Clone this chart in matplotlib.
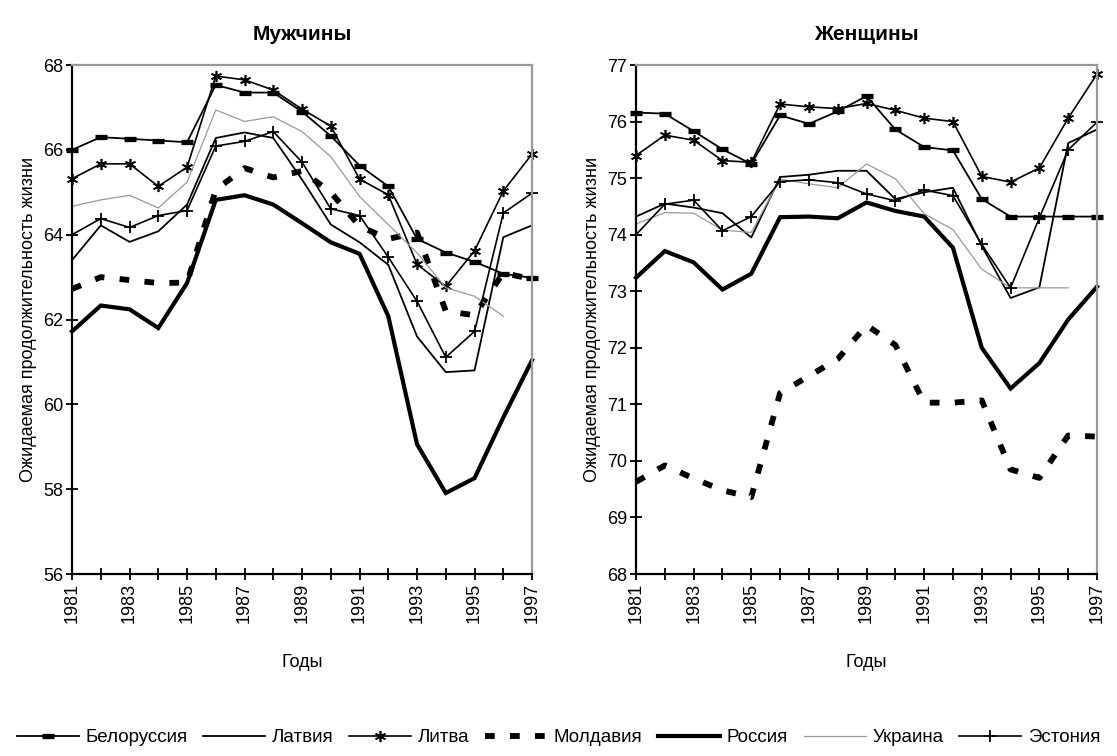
import numpy as np
import matplotlib
matplotlib.use("Agg")
import matplotlib.pyplot as plt

plt.rcParams['font.family'] = ['Liberation Sans', 'DejaVu Sans']
plt.rcParams['lines.scale_dashes'] = False

years = list(range(1981, 1998))
nan = np.nan

# Men (Мужчины)
m_belarus = [66.0, 66.3, 66.26, 66.22, 66.18, 67.53, 67.35, 67.35, 66.9, 66.33, 65.63, 65.14, 63.9, 63.58, 63.36, 63.08, 62.98]
m_latvia = [63.4, 64.22, 63.83, 64.08, 64.71, 66.28, 66.41, 66.28, 65.3, 64.24, 63.82, 63.29, 61.6, 60.76, 60.8, 63.94, 64.22]
m_lithuania = [65.32, 65.67, 65.67, 65.14, 65.59, 67.74, 67.65, 67.41, 66.96, 66.56, 65.31, 64.94, 63.3, 62.78, 63.62, 65.03, 65.9]
m_moldova = [62.72, 63.0, 62.93, 62.86, 62.87, 65.06, 65.57, 65.35, 65.5, 65.0, 64.2, 63.9, 64.05, 62.2, 62.1, 63.1, 62.95]
m_russia = [61.72, 62.33, 62.24, 61.8, 62.86, 64.82, 64.93, 64.71, 64.27, 63.82, 63.55, 62.08, 59.06, 57.91, 58.26, 59.69, 61.04]
m_ukraine = [64.67, 64.82, 64.93, 64.63, 65.24, 66.94, 66.67, 66.78, 66.43, 65.84, 64.9, 64.24, 63.57, 62.75, 62.55, 62.08, nan]
m_estonia = [64.0, 64.38, 64.17, 64.45, 64.57, 66.09, 66.2, 66.43, 65.71, 64.61, 64.45, 63.47, 62.43, 61.11, 61.72, 64.51, 64.98]

# Women (Женщины)
w_belarus = [76.16, 76.14, 75.83, 75.51, 75.25, 76.11, 75.96, 76.18, 76.45, 75.86, 75.55, 75.49, 74.63, 74.32, 74.32, 74.32, 74.32]
w_latvia = [74.32, 74.55, 74.48, 74.38, 73.95, 75.02, 75.06, 75.13, 75.13, 74.63, 74.75, 74.83, 73.8, 72.88, 73.07, 75.62, 75.86]
w_lithuania = [75.4, 75.76, 75.67, 75.31, 75.28, 76.31, 76.26, 76.23, 76.32, 76.2, 76.06, 76.0, 75.03, 74.93, 75.18, 76.06, 76.84]
w_moldova = [69.63, 69.92, 69.69, 69.48, 69.36, 71.2, 71.5, 71.8, 72.4, 72.05, 71.03, 71.03, 71.07, 69.85, 69.7, 70.45, 70.43]
w_russia = [73.24, 73.71, 73.51, 73.03, 73.31, 74.31, 74.32, 74.29, 74.57, 74.42, 74.32, 73.77, 72.0, 71.28, 71.73, 72.5, 73.08]
w_ukraine = [74.19, 74.39, 74.38, 74.08, 74.04, 74.98, 74.9, 74.83, 75.25, 74.99, 74.37, 74.09, 73.39, 73.06, 73.06, 73.06, nan]
w_estonia = [74.0, 74.54, 74.61, 74.07, 74.32, 74.94, 74.97, 74.92, 74.72, 74.6, 74.79, 74.69, 73.83, 73.06, 74.3, 75.5, 75.99]

labels = ['Белоруссия', 'Латвия', 'Литва', 'Молдавия', 'Россия', 'Украина', 'Эстония']
titles = ['Мужчины', 'Женщины']
ylabel = 'Ожидаемая продолжительность жизни'
xlabel = 'Годы'

styles = [
    dict(color='black', lw=1.3, marker='_', ms=9, mew=3.8),
    dict(color='black', lw=1.3),
    dict(color='black', lw=1.2, marker=(6, 2, 0), ms=8, mew=1.2),
    dict(color='black', lw=4.2, dashes=(7, 11), dash_capstyle='butt'),
    dict(color='black', lw=3.0, solid_joinstyle='miter'),
    dict(color='#999999', lw=0.9),
    dict(color='black', lw=1.2, marker='+', ms=9, mew=1.3),
]

fig = plt.figure(figsize=(11.17, 7.56), dpi=100)
ax1 = fig.add_axes([0.0645, 0.2407, 0.4118, 0.6733])
ax2 = fig.add_axes([0.5694, 0.2407, 0.4127, 0.6733])

data = [
    (ax1, [m_belarus, m_latvia, m_lithuania, m_moldova, m_russia, m_ukraine, m_estonia], (56, 68), np.arange(56, 69, 2)),
    (ax2, [w_belarus, w_latvia, w_lithuania, w_moldova, w_russia, w_ukraine, w_estonia], (68, 77), np.arange(68, 78, 1)),
]

handles = []
for i, (ax, series, ylim, yt) in enumerate(data):
    for s, lab, st in zip(series, labels, styles):
        ln, = ax.plot(years, s, label=lab, clip_on=False, **st)
        if i == 0:
            handles.append(ln)
    ax.set_xlim(1981, 1997)
    ax.set_ylim(*ylim)
    ax.set_yticks(yt)
    ax.set_yticklabels([str(v) for v in yt])
    ax.set_xticks(years)
    ax.set_xticklabels([str(y) if y % 2 == 1 else '' for y in years], rotation=90)
    ax.tick_params(axis='both', direction='inout', length=9, width=1.3, labelsize=13, colors='black')
    ax.tick_params(axis='x', pad=2)
    ax.tick_params(axis='y', pad=2)
    for sp in ['left', 'bottom']:
        ax.spines[sp].set_color('black')
        ax.spines[sp].set_linewidth(1.6)
    for sp in ['top', 'right']:
        ax.spines[sp].set_color('#999999')
        ax.spines[sp].set_linewidth(1.6)
    ax.set_title(titles[i], fontsize=15, fontweight='bold', pad=18)
    ax.set_ylabel(ylabel, fontsize=13, labelpad=4)
    ax.set_xlabel(xlabel, fontsize=13, labelpad=22)

fig.legend(handles=handles, labels=labels, loc='center', bbox_to_anchor=(0.5, 0.024),
           ncol=7, frameon=False, fontsize=13.5, handlelength=3.3, handletextpad=0.35,
           columnspacing=0.85, borderpad=0, borderaxespad=0)

fig.savefig('out.png', dpi=100)
